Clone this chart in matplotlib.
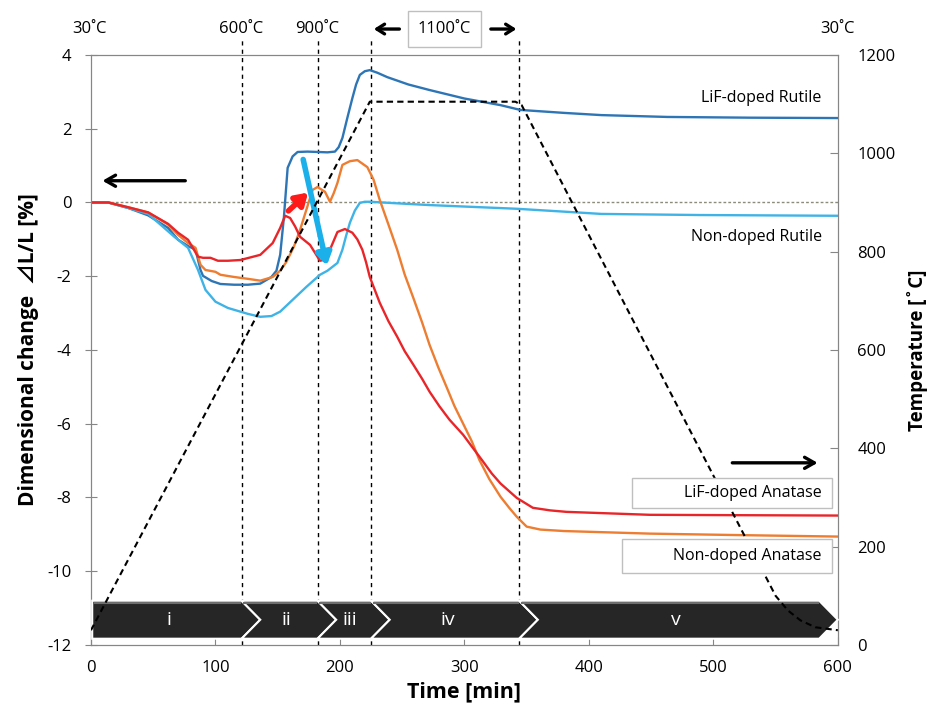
""" DILATOMETRY PLOT """

# imports
import numpy as np
import matplotlib.pyplot as plt
from matplotlib.patches import Polygon, Rectangle
from matplotlib.transforms import blended_transform_factory

plt.rcParams['font.family'] = ['Open Sans', 'DejaVu Sans']
plt.rcParams['axes.unicode_minus'] = False

# dimensional change curves [min], [%]
t_lif_rut = [0, 14, 30, 46, 62, 70, 78, 84, 88, 90, 97, 104, 115, 126, 136, 145, 149, 152, 155, 158,
             162, 166, 174, 182, 190, 196, 199, 202, 206, 210, 213, 216, 220, 224, 230, 238, 255, 272,
             300, 329, 345, 380, 410, 463, 530, 600]
v_lif_rut = [0.0, 0.0, -0.15, -0.35, -0.69, -1.01, -1.18, -1.28, -1.83, -1.99, -2.13, -2.21, -2.23, -2.23,
             -2.2, -2.02, -1.85, -1.42, -0.4, 0.94, 1.25, 1.37, 1.38, 1.37, 1.36, 1.38, 1.5, 1.75, 2.3,
             2.83, 3.2, 3.46, 3.56, 3.59, 3.52, 3.4, 3.2, 3.05, 2.82, 2.64, 2.51, 2.43, 2.37, 2.32, 2.3, 2.29]

t_non_rut = [0, 14, 30, 46, 67, 78, 86, 92, 100, 110, 126, 136, 145, 152, 162, 173, 184, 190, 198, 202,
             205, 208, 212, 216, 220, 224, 250, 272, 342, 410, 489, 600]
v_non_rut = [0.0, 0.0, -0.15, -0.31, -0.93, -1.23, -1.83, -2.37, -2.69, -2.86, -3.02, -3.1, -3.08, -2.96,
             -2.64, -2.29, -1.96, -1.85, -1.64, -1.28, -0.9, -0.55, -0.22, -0.01, 0.02, 0.02, -0.03,
             -0.07, -0.17, -0.31, -0.34, -0.36]

t_non_ana = [0, 14, 30, 46, 62, 70, 78, 84, 88, 92, 100, 104, 115, 126, 136, 146, 152, 157, 163, 168,
             173, 178, 182, 188, 192, 195, 198, 202, 208, 214, 222, 227, 232, 239, 246, 252, 259, 266,
             272, 279, 286, 292, 299, 306, 312, 320, 329, 336, 342, 350, 361, 380, 449, 520, 600]
v_non_ana = [0.0, 0.0, -0.13, -0.27, -0.6, -0.88, -1.1, -1.23, -1.69, -1.83, -1.88, -1.96, -2.02, -2.07,
             -2.12, -2.02, -1.85, -1.61, -1.2, -0.74, -0.2, 0.34, 0.42, 0.29, 0.02, 0.25, 0.53, 1.02,
             1.12, 1.15, 0.96, 0.62, 0.07, -0.6, -1.28, -1.95, -2.59, -3.25, -3.86, -4.47, -5.03,
             -5.52, -6.0, -6.48, -6.98, -7.5, -7.98, -8.28, -8.52, -8.79, -8.87, -8.91, -8.98,
             -9.02, -9.06]

t_lif_ana = [0, 14, 30, 46, 62, 70, 78, 86, 90, 96, 102, 110, 120, 136, 146, 152, 156, 160, 164, 168,
             176, 184, 188, 192, 198, 204, 210, 214, 218, 221, 224, 232, 239, 246, 252, 259, 266, 272,
             280, 288, 299, 306, 314, 322, 329, 342, 355, 369, 382, 449, 520, 600]
v_lif_ana = [0.0, 0.0, -0.13, -0.27, -0.58, -0.82, -1.01, -1.47, -1.5, -1.5, -1.58, -1.58, -1.56, -1.42,
             -1.1, -0.69, -0.36, -0.42, -0.65, -0.93, -1.15, -1.58, -1.55, -1.28, -0.8, -0.72, -0.82,
             -1.0, -1.28, -1.62, -2.02, -2.72, -3.22, -3.64, -4.03, -4.4, -4.78, -5.13, -5.53, -5.89,
             -6.3, -6.62, -6.98, -7.35, -7.62, -8.01, -8.28, -8.35, -8.39, -8.47, -8.48, -8.49]

# temperature programme [min], [C]
t_temp = [0, 224, 341, 346, 550, 560, 570, 582, 600]
temp = [30, 1105, 1105, 1098, 100, 70, 50, 36, 30]

# stage boundaries [min] and labels
bounds = [121, 182, 225, 344]
stages = ['i', 'ii', 'iii', 'iv', 'v']
stage_x = [63, 157, 208, 287, 470]
top_labels = ['30˚C', '600˚C', '900˚C', '30˚C']
top_label_x = [-1, 121, 182, 600]

# colours
c_lif_rut = '#2e75b6'
c_non_rut = '#3fb3e6'
c_non_ana = '#ed7d31'
c_lif_ana = '#e8262a'
spine_c = '#868686'

fig = plt.figure(figsize=(9.33, 7.18), dpi=100)
ax = fig.add_axes([0.0975, 0.1017, 0.8005, 0.8217])
ax2 = ax.twinx()

# curves
ax.axhline(0, color='#8c8c7c', lw=1, ls=(0, (2, 1.5)), zorder=1)
ax.plot(t_lif_rut, v_lif_rut, color=c_lif_rut, lw=1.7, zorder=3)
ax.plot(t_non_rut, v_non_rut, color=c_non_rut, lw=1.7, zorder=3)
ax.plot(t_non_ana, v_non_ana, color=c_non_ana, lw=1.7, zorder=3)
ax.plot(t_lif_ana, v_lif_ana, color=c_lif_ana, lw=1.7, zorder=3)

# temperature
ax2.plot(t_temp, temp, color='black', lw=1.5, ls=(0, (3, 2)), zorder=9)

# axes settings
ax.set_xlim(0, 600)
ax.set_ylim(-12, 4)
ax2.set_ylim(0, 1200)
ax.set_xticks(np.arange(0, 601, 100))
ax.set_yticks(np.arange(-12, 5, 2))
ax2.set_yticks(np.arange(0, 1201, 200))
for a in (ax, ax2):
    for s in a.spines.values():
        s.set_color(spine_c)
ax.tick_params(axis='y', direction='inout', length=8, color=spine_c, labelsize=12, pad=10)
ax.tick_params(axis='x', direction='in', length=6, color=spine_c, labelsize=12, pad=11)
ax2.tick_params(axis='y', direction='in', length=6, color=spine_c, labelsize=12, pad=14)
ax.set_xlabel('Time [min]', fontsize=15.5, fontweight='bold', labelpad=4)
ax.set_ylabel('Dimensional change  ⊿L/L [%]', fontsize=15, fontweight='bold', labelpad=6,
              family=['Open Sans', 'Noto Sans CJK JP', 'DejaVu Sans'])
ax2.set_ylabel('Temperature [˚C]', fontsize=13.5, fontweight='bold', labelpad=8)

# vertical stage lines
for b in bounds:
    ax.axvline(b, ymin=0, ymax=1.028, color='black', lw=1, ls=(0, (3, 3)), clip_on=False, zorder=2)

# top temperature labels
trans = blended_transform_factory(ax.transData, ax.transAxes)
for lab, x in zip(top_labels, top_label_x):
    ax.text(x, 1.044, lab, transform=trans, ha='center', va='center', fontsize=12)
ax.text(284, 1.044, '1100˚C', transform=trans, ha='center', va='center', fontsize=12,
        bbox=dict(boxstyle='square,pad=0.6', fc='white', ec='#bfbfbf', lw=1))
ax.annotate('', xy=(225, 1.044), xytext=(250, 1.044), xycoords=trans, textcoords=trans,
            arrowprops=dict(arrowstyle='->,head_length=0.55,head_width=0.35', lw=2.4, color='black'))
ax.annotate('', xy=(344, 1.044), xytext=(319, 1.044), xycoords=trans, textcoords=trans,
            arrowprops=dict(arrowstyle='->,head_length=0.55,head_width=0.35', lw=2.4, color='black'))

# axis direction arrows
ax.annotate('', xy=(7, 0.59), xytext=(78, 0.59),
            arrowprops=dict(arrowstyle='->,head_length=0.7,head_width=0.4', lw=2.4, color='black'))
ax.annotate('', xy=(586, -7.06), xytext=(513, -7.06),
            arrowprops=dict(arrowstyle='->,head_length=0.7,head_width=0.4', lw=2.4, color='black'))

# red and blue arrows
ax.annotate('', xy=(176, 0.32), xytext=(157, -0.28),
            arrowprops=dict(arrowstyle='-|>,head_length=0.7,head_width=0.45', lw=4, color='#ff1a1a'),
            zorder=5)
ax.annotate('', xy=(190, -1.78), xytext=(170, 1.24),
            arrowprops=dict(arrowstyle='-|>,head_length=0.7,head_width=0.45', lw=4, color='#1cb0ea'),
            zorder=5)

# curve labels
ax2.text(587, 2.83, 'LiF-doped Rutile', transform=ax.transData, ha='right', va='center', fontsize=11.5)
ax2.text(587, -0.93, 'Non-doped Rutile', transform=ax.transData, ha='right', va='center', fontsize=11.5)
ax2.add_patch(Rectangle((434.5, -8.28), 160.5, 0.82, transform=ax.transData, fc='white', ec='#bfbfbf',
                        lw=1, zorder=10))
ax2.text(587, -7.87, 'LiF-doped Anatase', transform=ax.transData, ha='right', va='center', fontsize=11.5,
         zorder=11)
ax2.add_patch(Rectangle((426.5, -10.04), 168.5, 0.92, transform=ax.transData, fc='white', ec='#bfbfbf',
                        lw=1, zorder=10))
ax2.text(587, -9.58, 'Non-doped Anatase', transform=ax.transData, ha='right', va='center', fontsize=11.5,
         zorder=11)

# stage banner
top, bot = -10.8, -11.83
mid = (top + bot) / 2
depth = 15
starts = [1] + bounds
ends = bounds + [585]
for i in range(len(stages)):
    s, e = starts[i], ends[i]
    pts = [(s, top), (e, top), (e + depth, mid), (e, bot), (s, bot)]
    if i > 0:
        pts.append((s + depth, mid))
    ax2.add_patch(Polygon(pts, closed=True, transform=ax.transData, fc='#262626', ec='white', lw=1.5,
                          zorder=6, clip_on=False))
    ax2.plot([s + 2, e - 1], [top - 0.06, top - 0.06], transform=ax.transData, color='#6e6e6e', lw=1.5,
             zorder=7)
    ax2.text(stage_x[i], mid, stages[i], transform=ax.transData, ha='center', va='center', color='white',
             fontsize=14, zorder=8)

fig.savefig('out.png', dpi=100)
